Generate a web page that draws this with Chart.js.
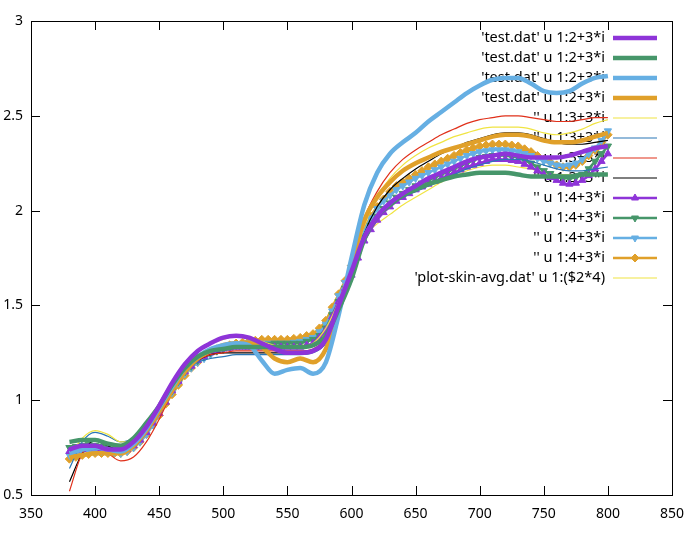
<!DOCTYPE html>
<html>
<head>
<meta charset="utf-8">
<script src="https://cdn.jsdelivr.net/npm/chart.js@4"></script>
<style>
  html, body { margin: 0; padding: 0; background: #fff; }
  #wrap { width: 690px; height: 541px; }
</style>
</head>
<body>
<div id="wrap"><canvas id="chart" width="690" height="541"></canvas></div>
<script>
// wavelength (nm), one value every 10 nm
const wavelengths = [380, 390, 400, 410, 420, 430, 440, 450, 460, 470, 480, 490, 500, 510, 520, 530, 540, 550, 560, 570, 580, 590, 600, 610, 620, 630, 640, 650, 660, 670, 680, 690, 700, 710, 720, 730, 740, 750, 760, 770, 780, 790, 800];

// the point series are dense, read every 5 nm
const wavelengthsFine = [
  380, 385, 390, 395, 400, 405, 410, 415, 420, 425,
  430, 435, 440, 445, 450, 455, 460, 465, 470, 475,
  480, 485, 490, 495, 500, 505, 510, 515, 520, 525,
  530, 535, 540, 545, 550, 555, 560, 565, 570, 575,
  580, 585, 590, 595, 600, 605, 610, 615, 620, 625,
  630, 635, 640, 645, 650, 655, 660, 665, 670, 675,
  680, 685, 690, 695, 700, 705, 710, 715, 720, 725,
  730, 735, 740, 745, 750, 755, 760, 765, 770, 775,
  780, 785, 790, 795, 800];

// 'test.dat' u 1:2+3*i  (thick lines)
const col2a = [0.74, 0.76, 0.76, 0.74, 0.74, 0.78, 0.86, 0.97, 1.09, 1.19, 1.26, 1.30, 1.33, 1.34, 1.33, 1.30, 1.27, 1.25, 1.25, 1.26, 1.32, 1.50, 1.68, 1.86, 1.97, 2.04, 2.09, 2.13, 2.17, 2.20, 2.23, 2.26, 2.28, 2.29, 2.30, 2.29, 2.28, 2.28, 2.28, 2.29, 2.31, 2.33, 2.34];
const col2b = [0.78, 0.79, 0.79, 0.77, 0.76, 0.80, 0.88, 0.97, 1.08, 1.17, 1.23, 1.26, 1.27, 1.28, 1.28, 1.28, 1.28, 1.28, 1.28, 1.29, 1.34, 1.48, 1.64, 1.85, 1.97, 2.03, 2.08, 2.11, 2.14, 2.16, 2.18, 2.19, 2.20, 2.20, 2.20, 2.19, 2.18, 2.18, 2.18, 2.18, 2.19, 2.19, 2.19];
const col2c = [0.72, 0.74, 0.75, 0.74, 0.73, 0.77, 0.85, 0.96, 1.07, 1.17, 1.23, 1.27, 1.29, 1.30, 1.29, 1.21, 1.14, 1.16, 1.17, 1.14, 1.20, 1.45, 1.75, 2.03, 2.20, 2.30, 2.36, 2.41, 2.47, 2.52, 2.57, 2.62, 2.66, 2.69, 2.70, 2.70, 2.67, 2.63, 2.62, 2.63, 2.67, 2.70, 2.71];
const col2d = [0.70, 0.71, 0.72, 0.72, 0.72, 0.76, 0.84, 0.94, 1.05, 1.15, 1.22, 1.26, 1.29, 1.30, 1.30, 1.28, 1.22, 1.20, 1.22, 1.20, 1.27, 1.48, 1.72, 1.95, 2.07, 2.15, 2.21, 2.25, 2.28, 2.31, 2.33, 2.35, 2.37, 2.39, 2.40, 2.40, 2.39, 2.37, 2.36, 2.36, 2.37, 2.39, 2.41];

// '' u 1:3+3*i  (thin lines)
const col3a = [0.70, 0.80, 0.84, 0.82, 0.78, 0.79, 0.86, 0.96, 1.08, 1.18, 1.25, 1.30, 1.32, 1.34, 1.33, 1.31, 1.29, 1.28, 1.28, 1.30, 1.38, 1.52, 1.70, 1.92, 2.07, 2.17, 2.24, 2.29, 2.33, 2.36, 2.39, 2.41, 2.43, 2.44, 2.44, 2.44, 2.43, 2.41, 2.40, 2.41, 2.43, 2.46, 2.48];
const col3b = [0.64, 0.78, 0.83, 0.81, 0.78, 0.80, 0.87, 0.97, 1.08, 1.16, 1.20, 1.22, 1.23, 1.24, 1.24, 1.24, 1.24, 1.24, 1.24, 1.25, 1.30, 1.45, 1.65, 1.88, 1.97, 2.03, 2.07, 2.10, 2.13, 2.16, 2.19, 2.22, 2.24, 2.26, 2.27, 2.27, 2.26, 2.24, 2.22, 2.21, 2.21, 2.22, 2.23];
const col3c = [0.52, 0.72, 0.76, 0.72, 0.68, 0.70, 0.78, 0.90, 1.04, 1.15, 1.21, 1.24, 1.25, 1.26, 1.26, 1.26, 1.26, 1.26, 1.26, 1.27, 1.33, 1.50, 1.72, 1.96, 2.10, 2.20, 2.27, 2.32, 2.36, 2.40, 2.43, 2.46, 2.48, 2.49, 2.50, 2.50, 2.49, 2.48, 2.47, 2.47, 2.48, 2.49, 2.49];
const col3d = [0.57, 0.72, 0.79, 0.76, 0.73, 0.75, 0.83, 0.94, 1.06, 1.16, 1.21, 1.24, 1.25, 1.25, 1.25, 1.25, 1.25, 1.25, 1.25, 1.26, 1.31, 1.47, 1.67, 1.88, 2.02, 2.11, 2.17, 2.22, 2.26, 2.30, 2.33, 2.36, 2.38, 2.40, 2.41, 2.41, 2.40, 2.38, 2.36, 2.35, 2.35, 2.36, 2.37];

// '' u 1:4+3*i  (lines with points, 5 nm)
const col4a = [
  0.73, 0.735, 0.74, 0.75, 0.75, 0.745, 0.74, 0.73, 0.73, 0.74,
  0.76, 0.79, 0.83, 0.88, 0.93, 0.99, 1.05, 1.10, 1.15, 1.18,
  1.21, 1.23, 1.25, 1.26, 1.27, 1.275, 1.28, 1.28, 1.28, 1.28,
  1.28, 1.28, 1.28, 1.28, 1.28, 1.28, 1.28, 1.29, 1.30, 1.33,
  1.37, 1.44, 1.52, 1.59, 1.66, 1.75, 1.84, 1.90, 1.95, 1.99,
  2.02, 2.05, 2.07, 2.09, 2.11, 2.125, 2.14, 2.155, 2.17, 2.185,
  2.20, 2.215, 2.23, 2.24, 2.25, 2.26, 2.27, 2.27, 2.27, 2.265,
  2.26, 2.245, 2.23, 2.21, 2.19, 2.175, 2.16, 2.145, 2.14, 2.145,
  2.16, 2.185, 2.22, 2.26, 2.30];
const col4b = [
  0.75, 0.755, 0.76, 0.765, 0.76, 0.755, 0.75, 0.74, 0.74, 0.75,
  0.77, 0.80, 0.84, 0.89, 0.94, 1.00, 1.05, 1.10, 1.15, 1.18,
  1.21, 1.23, 1.25, 1.26, 1.27, 1.28, 1.29, 1.29, 1.29, 1.29,
  1.29, 1.295, 1.30, 1.30, 1.30, 1.30, 1.30, 1.31, 1.32, 1.34,
  1.38, 1.45, 1.52, 1.59, 1.67, 1.77, 1.86, 1.92, 1.97, 2.01,
  2.04, 2.07, 2.09, 2.11, 2.13, 2.145, 2.16, 2.175, 2.19, 2.205,
  2.22, 2.235, 2.25, 2.265, 2.28, 2.285, 2.29, 2.29, 2.29, 2.285,
  2.28, 2.265, 2.25, 2.23, 2.21, 2.195, 2.18, 2.17, 2.17, 2.175,
  2.19, 2.22, 2.26, 2.30, 2.34];
const col4c = [
  0.71, 0.72, 0.73, 0.735, 0.73, 0.73, 0.73, 0.725, 0.72, 0.73,
  0.75, 0.78, 0.82, 0.87, 0.93, 0.99, 1.04, 1.09, 1.14, 1.17,
  1.20, 1.22, 1.24, 1.26, 1.27, 1.28, 1.29, 1.295, 1.30, 1.30,
  1.30, 1.30, 1.30, 1.30, 1.30, 1.305, 1.31, 1.32, 1.33, 1.36,
  1.40, 1.47, 1.55, 1.62, 1.70, 1.80, 1.89, 1.96, 2.01, 2.05,
  2.08, 2.11, 2.13, 2.15, 2.17, 2.185, 2.20, 2.215, 2.23, 2.245,
  2.26, 2.275, 2.29, 2.30, 2.31, 2.315, 2.32, 2.32, 2.32, 2.315,
  2.31, 2.30, 2.29, 2.275, 2.26, 2.25, 2.24, 2.235, 2.24, 2.25,
  2.27, 2.30, 2.33, 2.37, 2.42];
const col4d = [
  0.69, 0.70, 0.71, 0.715, 0.72, 0.72, 0.72, 0.72, 0.72, 0.73,
  0.75, 0.78, 0.82, 0.87, 0.92, 0.98, 1.03, 1.08, 1.13, 1.17,
  1.20, 1.23, 1.25, 1.27, 1.28, 1.29, 1.30, 1.305, 1.31, 1.315,
  1.32, 1.32, 1.32, 1.32, 1.32, 1.325, 1.33, 1.34, 1.35, 1.38,
  1.42, 1.49, 1.56, 1.63, 1.71, 1.81, 1.90, 1.97, 2.02, 2.06,
  2.10, 2.13, 2.15, 2.17, 2.19, 2.21, 2.23, 2.245, 2.26, 2.275,
  2.29, 2.305, 2.32, 2.33, 2.34, 2.345, 2.35, 2.35, 2.35, 2.345,
  2.34, 2.325, 2.31, 2.29, 2.27, 2.255, 2.24, 2.23, 2.23, 2.24,
  2.26, 2.29, 2.32, 2.36, 2.40];

// 'plot-skin-avg.dat' u 1:($2*4)
const skinAvg = [0.70, 0.73, 0.75, 0.75, 0.74, 0.77, 0.85, 0.95, 1.07, 1.17, 1.23, 1.26, 1.28, 1.30, 1.30, 1.30, 1.30, 1.29, 1.29, 1.30, 1.36, 1.50, 1.66, 1.86, 1.93, 1.98, 2.03, 2.07, 2.11, 2.15, 2.18, 2.21, 2.23, 2.24, 2.24, 2.23, 2.22, 2.20, 2.19, 2.19, 2.19, 2.19, 2.19];

const xTicks = [350, 400, 450, 500, 550, 600, 650, 700, 750, 800, 850];
const yTicks = [0.5, 1, 1.5, 2, 2.5, 3];

const labelTest = "'test.dat' u 1:2+3*i";
const labelCol3 = "'' u 1:3+3*i";
const labelCol4 = "'' u 1:4+3*i";
const labelAvg = "'plot-skin-avg.dat' u 1:($2*4)";

// gnuplot-ish colours
const purple = "#8e34d8";
const green = "#46966a";
const skyblue = "#66afe3";
const orange = "#e0a02a";
const yellow = "#f0e442";
const blue = "#2a76b6";
const red = "#e0301a";
const black = "#000000";

function pts(xs, vals) {
  return xs.map((x, i) => ({ x: x, y: vals[i] }));
}

function thick(label, vals, color) {
  return { label, data: pts(wavelengths, vals), borderColor: color, backgroundColor: color, borderWidth: 4.5, pointRadius: 0 };
}
function thin(label, vals, color) {
  return { label, data: pts(wavelengths, vals), borderColor: color, backgroundColor: color, borderWidth: 1.2, pointRadius: 0 };
}
function marked(label, vals, color, style, rot) {
  return {
    label, data: pts(wavelengthsFine, vals), borderColor: color, backgroundColor: color, borderWidth: 2.5,
    pointStyle: style, pointRotation: rot, pointRadius: 4.2, pointBorderWidth: 1,
  };
}

const datasets = [
  thick(labelTest, col2a, purple),
  thick(labelTest, col2b, green),
  thick(labelTest, col2c, skyblue),
  thick(labelTest, col2d, orange),
  thin(labelCol3, col3a, yellow),
  thin(labelCol3, col3b, blue),
  thin(labelCol3, col3c, red),
  thin(labelCol3, col3d, black),
  marked(labelCol4, col4a, purple, "triangle", 0),
  marked(labelCol4, col4b, green, "triangle", 180),
  marked(labelCol4, col4c, skyblue, "triangle", 180),
  marked(labelCol4, col4d, orange, "rectRot", 0),
  thin(labelAvg, skinAvg, yellow),
];

// key in the top right, drawn before the curves like gnuplot does
const keyPlugin = {
  id: "key",
  beforeDatasetsDraw(chart) {
    const ctx = chart.ctx;
    ctx.save();
    ctx.font = "14.5px 'Noto Sans', sans-serif";
    ctx.textAlign = "right";
    ctx.textBaseline = "middle";
    chart.data.datasets.forEach((ds, i) => {
      const y = 38 + i * 20;
      ctx.fillStyle = "#000";
      ctx.fillText(ds.label, 605, y);
      ctx.strokeStyle = ds.borderColor;
      ctx.lineWidth = ds.borderWidth;
      ctx.beginPath();
      ctx.moveTo(613, y);
      ctx.lineTo(657, y);
      ctx.stroke();
      if (ds.pointRadius !== 0) {
        ctx.fillStyle = ds.borderColor;
        ctx.lineWidth = 1;
        Chart.helpers.drawPoint(ctx, { pointStyle: ds.pointStyle, rotation: ds.pointRotation, radius: 4, borderWidth: 1 }, 635, y);
      }
    });
    ctx.restore();
  },
};

// border with inward ticks on all four sides
const framePlugin = {
  id: "frame",
  afterDatasetsDraw(chart) {
    const { ctx, chartArea: a, scales } = chart;
    ctx.save();
    ctx.strokeStyle = "#000";
    ctx.lineWidth = 1;
    ctx.beginPath();
    scales.x.ticks.forEach((t) => {
      const px = Math.round(scales.x.getPixelForValue(t.value)) + 0.5;
      ctx.moveTo(px, a.bottom);
      ctx.lineTo(px, a.bottom - 9);
      ctx.moveTo(px, a.top);
      ctx.lineTo(px, a.top + 9);
    });
    scales.y.ticks.forEach((t) => {
      const py = Math.round(scales.y.getPixelForValue(t.value)) + 0.5;
      ctx.moveTo(a.left, py);
      ctx.lineTo(a.left + 9, py);
      ctx.moveTo(a.right, py);
      ctx.lineTo(a.right - 9, py);
    });
    ctx.stroke();
    ctx.strokeRect(Math.round(a.left) + 0.5, Math.round(a.top) + 0.5, Math.round(a.right - a.left), Math.round(a.bottom - a.top));
    ctx.restore();
  },
};

Chart.defaults.font.family = "'Noto Sans', sans-serif";
Chart.defaults.font.size = 14;
Chart.defaults.color = "#000";

new Chart("chart", {
  type: "line",
  data: { datasets },
  options: {
    responsive: false,
    animation: false,
    layout: { padding: { top: 21, right: 18, left: 0, bottom: 0 } },
    elements: { line: { cubicInterpolationMode: "monotone" } },
    plugins: { legend: { display: false }, tooltip: { enabled: false } },
    scales: {
      x: {
        type: "linear",
        min: 350,
        max: 850,
        afterBuildTicks: (s) => { s.ticks = xTicks.map((v) => ({ value: v })); },
        afterFit: (s) => { s.height = 46; s.paddingLeft = 0; s.paddingRight = 0; },
        grid: { display: false, drawTicks: false },
        border: { display: false },
        ticks: { padding: 11, maxRotation: 0, callback: (v) => String(v) },
      },
      y: {
        min: 0.5,
        max: 3,
        afterBuildTicks: (s) => { s.ticks = yTicks.map((v) => ({ value: v })); },
        afterFit: (s) => { s.width = 31; s.paddingTop = 0; s.paddingBottom = 0; },
        grid: { display: false, drawTicks: false },
        border: { display: false },
        ticks: { padding: 8, callback: (v) => String(v) },
      },
    },
  },
  plugins: [keyPlugin, framePlugin],
});
</script>
</body>
</html>
